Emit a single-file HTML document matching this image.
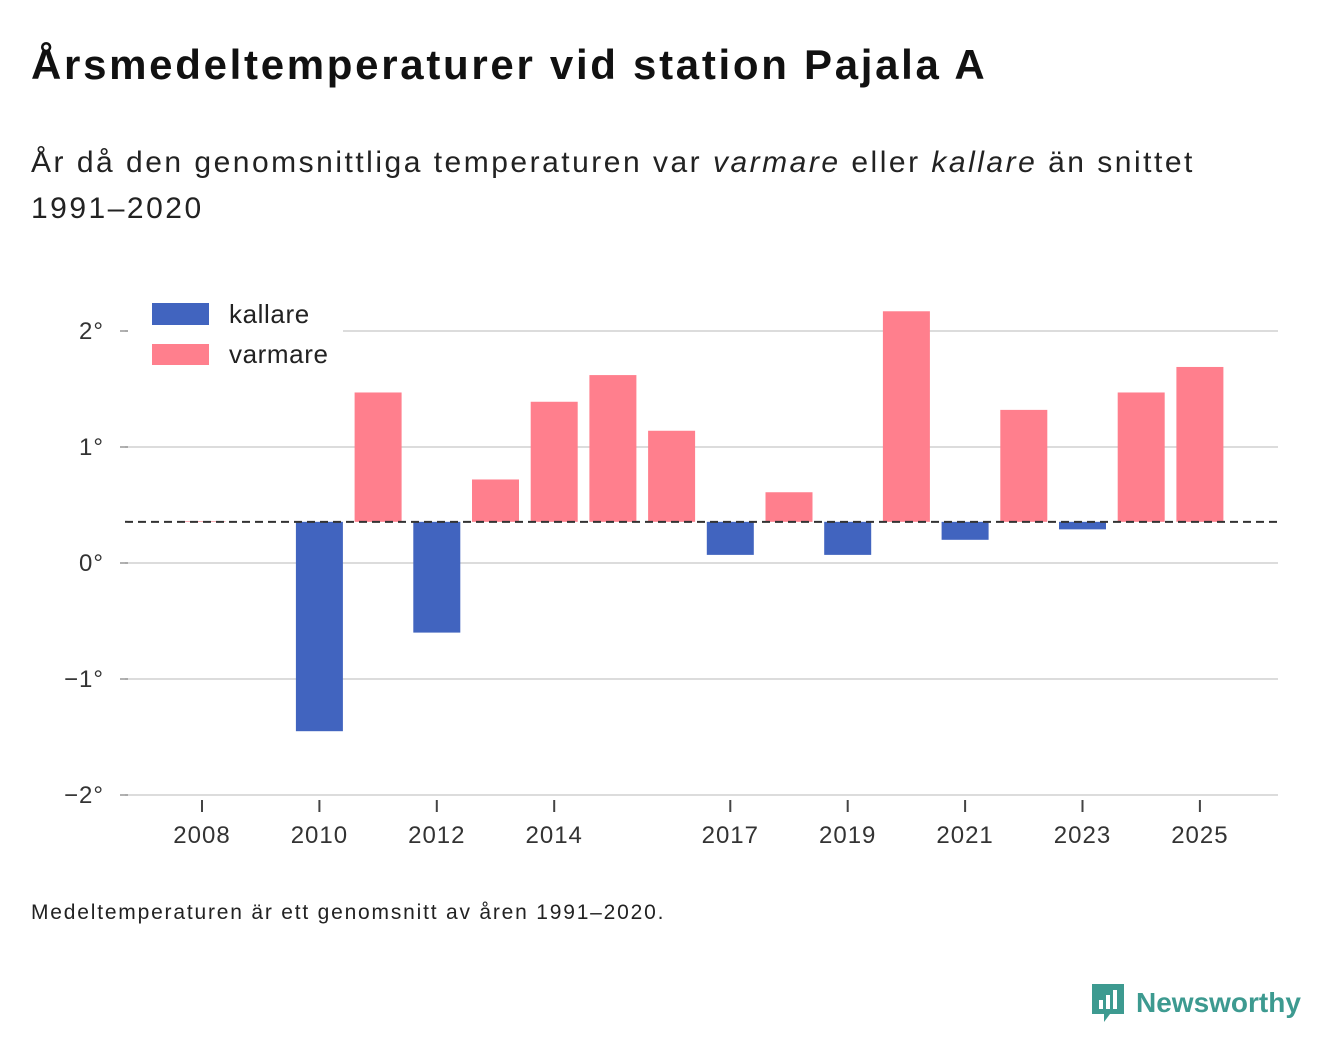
<!DOCTYPE html>
<html><head><meta charset="utf-8">
<style>
body{margin:0;width:1340px;height:1056px;background:#fff;font-family:"Liberation Sans","DejaVu Sans",sans-serif;color:#111;position:relative;overflow:hidden}
h1{position:absolute;left:31px;top:41px;margin:0;font-size:42px;font-weight:bold;letter-spacing:2.7px}
.sub{position:absolute;left:31px;top:140px;margin:0;font-size:30px;line-height:46px;color:#222;width:1260px;letter-spacing:2.5px}
.foot{position:absolute;left:31px;top:901px;font-size:21px;color:#222;letter-spacing:1.8px}
.logo{position:absolute;left:1090px;top:982px;display:flex;align-items:center;gap:10px;color:#3d9a90;font-size:28px;font-weight:bold}
svg text{font-family:"Liberation Sans","DejaVu Sans",sans-serif}
</style></head><body>
<h1>Årsmedeltemperaturer vid station Pajala A</h1>
<p class="sub">År då den genomsnittliga temperaturen var <i>varmare</i> eller <i>kallare</i> än snittet<br>1991–2020</p>
<svg id="chart" width="1340" height="880" style="position:absolute;left:0;top:0"></svg>
<div class="foot">Medeltemperaturen är ett genomsnitt av åren 1991–2020.</div>
<div class="logo">
<svg width="36" height="42" viewBox="0 0 36 42"><path d="M2 2h32v30H20l-6 8v-8H2z" fill="#3d9a90"/><rect x="9" y="18" width="4" height="9" fill="#fff"/><rect x="16" y="13" width="4" height="14" fill="#fff"/><rect x="23" y="8" width="4" height="19" fill="#fff"/></svg>
<span>Newsworthy</span></div>
<script>
const years=[2008,2010,2011,2012,2013,2014,2015,2016,2017,2018,2019,2020,2021,2022,2023,2024,2025];
const values=[0.36,-1.45,1.47,-0.60,0.72,1.39,1.62,1.14,0.07,0.61,0.07,2.17,0.20,1.32,0.29,1.47,1.69];
const baseline=0.355;
const yTicks=[2,1,0,-1,-2];
const yTickLabels=["2°","1°","0°","−1°","−2°"];
const xTicks=[2008,2010,2012,2014,2017,2019,2021,2023,2025];
const NS="http://www.w3.org/2000/svg";
const svg=document.getElementById('chart');
const y=v=>563-v*116;
const x=yr=>202+(yr-2008)*58.7;
function el(t,a){const e=document.createElementNS(NS,t);for(const k in a)e.setAttribute(k,a[k]);svg.appendChild(e);return e;}
yTicks.forEach((t,i)=>{
  const g=el('line',{x1:125,x2:1278,y1:y(t),y2:y(t),stroke:'#dcdcdc','stroke-width':2});
  
  
  el('line',{x1:120,x2:128,y1:y(t),y2:y(t),stroke:'#999','stroke-width':1.5});
  const tx=el('text',{x:104,y:y(t)+8,'text-anchor':'end','font-size':24,fill:'#333','letter-spacing':1});
  tx.textContent=yTickLabels[i];
  
  
});
xTicks.forEach(t=>{
  el('line',{x1:x(t),x2:x(t),y1:800,y2:812,stroke:'#444','stroke-width':2});
  const tx=el('text',{x:x(t),y:843,'text-anchor':'middle','font-size':24,fill:'#333','letter-spacing':1});
  tx.textContent=t;
  
  
});
years.forEach((yr,i)=>{
  const v=values[i];
  const top=y(Math.max(v,baseline)),bot=y(Math.min(v,baseline));
  const r=el('rect',{x:x(yr)-23.5,y:top,width:47,height:Math.max(bot-top,0.5),fill:v>=baseline?'#ff7f8d':'#4164bf'});
  
  
});
const bl=el('line',{x1:125,x2:1278,y1:y(baseline),y2:y(baseline),stroke:'#333','stroke-width':2,'stroke-dasharray':'8,5'});


el('rect',{x:128,y:292,width:215,height:82,fill:'#fff'});
const l1=el('rect',{x:152,y:303,width:57,height:22,fill:'#4164bf'});


const t1=el('text',{x:229,y:323,'font-size':26,fill:'#222','letter-spacing':0.6});t1.textContent='kallare';


const l2=el('rect',{x:152,y:344,width:57,height:21,fill:'#ff7f8d'});


const t2=el('text',{x:229,y:363,'font-size':26,fill:'#222','letter-spacing':0.6});t2.textContent='varmare';


</script>
</body></html>
